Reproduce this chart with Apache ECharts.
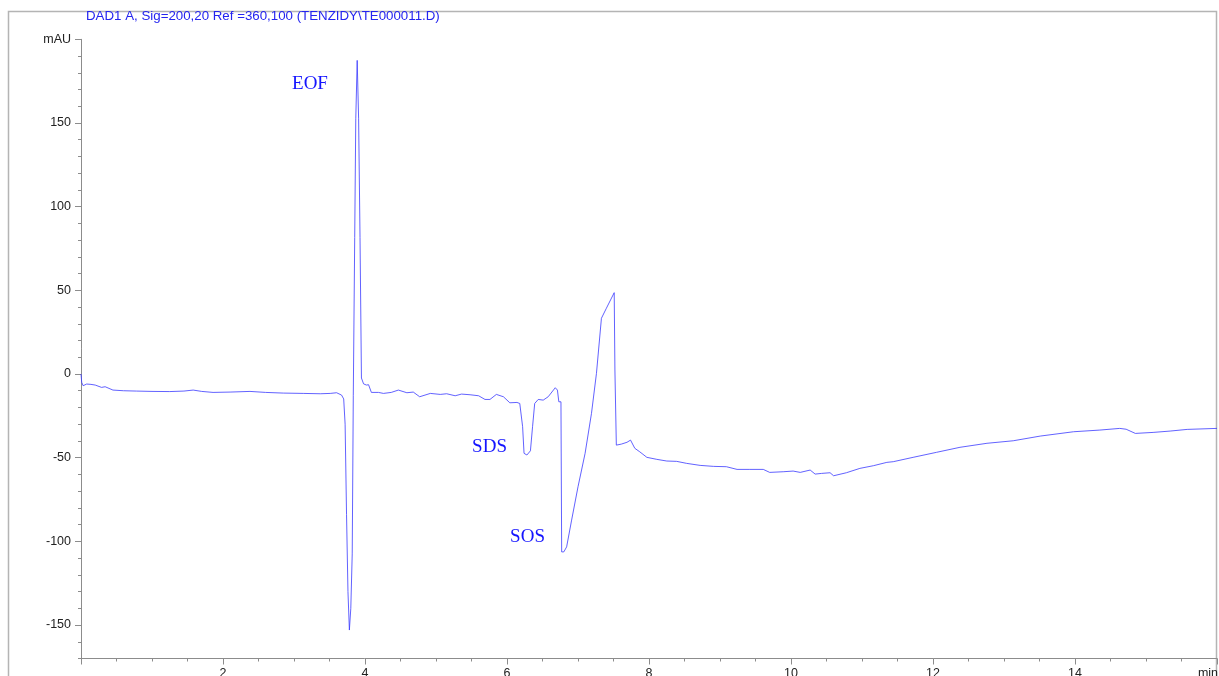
<!DOCTYPE html>
<html>
<head>
<meta charset="utf-8">
<title>DAD1 A electropherogram</title>
<script src="https://cdn.jsdelivr.net/npm/echarts@6/dist/echarts.min.js"></script>
<style>
html, body { margin: 0; padding: 0; background: #fff; }
#main { width: 1219px; height: 676px; }
</style>
</head>
<body>
<div id="main"></div>
<script>
// retention time (min) and absorbance (mAU)
var times = [
  0.00, 0.01, 0.03, 0.08, 0.14, 0.20, 0.29, 0.34, 0.45, 0.60, 0.78, 1.00, 1.25, 1.45, 1.58, 1.70, 1.86, 2.10,
  2.38, 2.60, 2.85, 3.13, 3.37, 3.51, 3.60, 3.67, 3.70, 3.72, 3.74, 3.76, 3.78, 3.80, 3.82, 3.835, 3.855, 3.87,
  3.89, 3.91, 3.93, 3.95, 3.98, 4.02, 4.05, 4.09, 4.19, 4.26, 4.37, 4.47, 4.59, 4.68, 4.77, 4.92, 5.06, 5.15,
  5.27, 5.36, 5.48, 5.60, 5.69, 5.76, 5.85, 5.95, 6.04, 6.14, 6.18, 6.22, 6.24, 6.28, 6.33, 6.36, 6.39, 6.44,
  6.51, 6.58, 6.68, 6.71, 6.73, 6.76, 6.77, 6.80, 6.84, 6.91, 7.00, 7.10, 7.19, 7.26, 7.33, 7.40, 7.51, 7.52,
  7.54, 7.61, 7.69, 7.74, 7.80, 7.87, 7.97, 8.11, 8.25, 8.39, 8.53, 8.72, 8.91, 9.09, 9.24, 9.42, 9.61, 9.70,
  9.89, 10.03, 10.13, 10.27, 10.34, 10.43, 10.55, 10.60, 10.78, 10.97, 11.16, 11.35, 11.44, 11.72, 12.05, 12.38,
  12.76, 13.13, 13.51, 13.98, 14.35, 14.63, 14.72, 14.85, 15.10, 15.34, 15.58, 16.00
];
var absorb = [
  0, -5, -7, -6, -6.2, -6.6, -8, -7.6, -9.6, -10, -10.2, -10.4, -10.5, -10.2, -9.6, -10.4, -11, -10.8,
  -10.4, -11, -11.4, -11.6, -11.8, -11.6, -11.2, -12.6, -14.9, -30, -84, -130, -153, -140, -107.5, -13, 81.6, 152.5,
  187.4, 152.5, 81.6, -2.4, -5.9, -6.6, -6.4, -11, -11, -11.6, -11, -9.6, -11.2, -10.8, -13.6, -11.6, -12.2, -11.8,
  -13, -12, -12.4, -13, -15.2, -15.2, -12.2, -13.6, -17.2, -17, -17.6, -31.5, -47.4, -48.4, -45.9, -31.5, -17.6, -15.2,
  -15.6, -13.6, -8.2, -9.6, -16.6, -16.6, -106.3, -106.3, -103.3, -87.3, -67.4, -47.4, -23.5, 0.4, 33.3, 39.3, 48.6, 2.4,
  -42.5, -41.9, -40.8, -39.5, -44.4, -46.5, -49.8, -51, -52, -52.2, -53.4, -54.6, -55.2, -55.4, -57, -57, -57, -58.8,
  -58.4, -58, -58.8, -57.4, -59.8, -59.4, -59, -60.8, -59, -56.4, -54.8, -52.8, -52.4, -49.8, -46.8, -43.8,
  -41.4, -39.9, -37.1, -34.5, -33.5, -32.5, -33, -35.5, -34.9, -34.1, -33.1, -32.5
];

// peak annotations
var peakNames = ['EOF', 'SDS', 'SOS'];
var peakTimes = [3.225, 5.754, 6.289];
var peakVals = [173.3, -43.6, -97.4];

// tick labels
var yMajor = [-150, -100, -50, 0, 50, 100, 150, 200];

var chart = echarts.init(document.getElementById('main'));

var points = [];
for (var i = 0; i < times.length; i++) {
  points.push([times[i], absorb[i]]);
}
var marks = [];
for (var j = 0; j < peakNames.length; j++) {
  marks.push({ name: peakNames[j], coord: [peakTimes[j], peakVals[j]] });
}

var option = {
  animation: false,
  backgroundColor: '#fff',
  title: {
    text: 'DAD1 A, Sig=200,20 Ref =360,100 (TENZIDY\\TE000011.D)',
    left: 86,
    top: 10,
    padding: 0,
    textStyle: { color: '#2424f0', fontSize: 13.3, fontWeight: 'normal', fontFamily: 'Liberation Sans' }
  },
  graphic: [{
    type: 'rect',
    z: -1,
    shape: { x: 8.5, y: 11.5, width: 1208, height: 700 },
    style: { fill: 'none', stroke: '#b4b4b4', lineWidth: 1.5 }
  }],
  grid: { left: 81, right: 2, top: 39.3, bottom: 17.5, outerBoundsMode: 'none' },
  xAxis: {
    type: 'value',
    min: 0,
    max: 16,
    interval: 2,
    axisLine: { onZero: false, lineStyle: { color: '#8c8c8c', width: 1 } },
    axisTick: { length: 6, lineStyle: { color: '#8c8c8c' } },
    minorTick: { show: true, splitNumber: 4, length: 3, lineStyle: { color: '#8c8c8c' } },
    splitLine: { show: false },
    axisLabel: {
      margin: 9,
      color: '#222',
      fontSize: 12.5,
      fontFamily: 'Liberation Sans',
      formatter: function (v) {
        if (v === 0) return '';
        if (v === 16) return '{unit|min}';
        return String(v);
      },
      rich: {
        unit: { color: '#222', fontSize: 12.5, fontFamily: 'Liberation Sans', padding: [0, 18, 0, 0] }
      }
    }
  },
  yAxis: [{
    type: 'value',
    min: -170,
    max: 200,
    interval: 10,
    axisLine: { show: true, onZero: false, lineStyle: { color: '#8c8c8c', width: 1 } },
    axisTick: { length: 3, lineStyle: { color: '#8c8c8c' } },
    splitLine: { show: false },
    axisLabel: { show: false }
  }, {
    type: 'value',
    min: -170,
    max: 200,
    position: 'left',
    axisLine: { show: false, onZero: false },
    axisTick: { show: true, length: 6, customValues: yMajor, lineStyle: { color: '#8c8c8c' } },
    splitLine: { show: false },
    axisLabel: {
      margin: 10,
      color: '#222',
      fontSize: 12.5,
      fontFamily: 'Liberation Sans',
      customValues: yMajor,
      formatter: function (v) { return v === 200 ? 'mAU' : String(v); }
    }
  }],
  series: [{
    type: 'line',
    yAxisIndex: 0,
    data: points,
    showSymbol: false,
    symbol: 'none',
    lineStyle: { color: '#3a3aff', width: 0.8 },
    markPoint: {
      symbol: 'rect',
      symbolSize: 1,
      itemStyle: { color: 'rgba(0,0,0,0)' },
      label: {
        show: true,
        position: 'inside',
        formatter: '{b}',
        color: '#1414ff',
        fontSize: 19,
        fontFamily: 'Liberation Serif'
      },
      data: marks
    }
  }]
};

chart.setOption(option);
</script>
</body>
</html>
